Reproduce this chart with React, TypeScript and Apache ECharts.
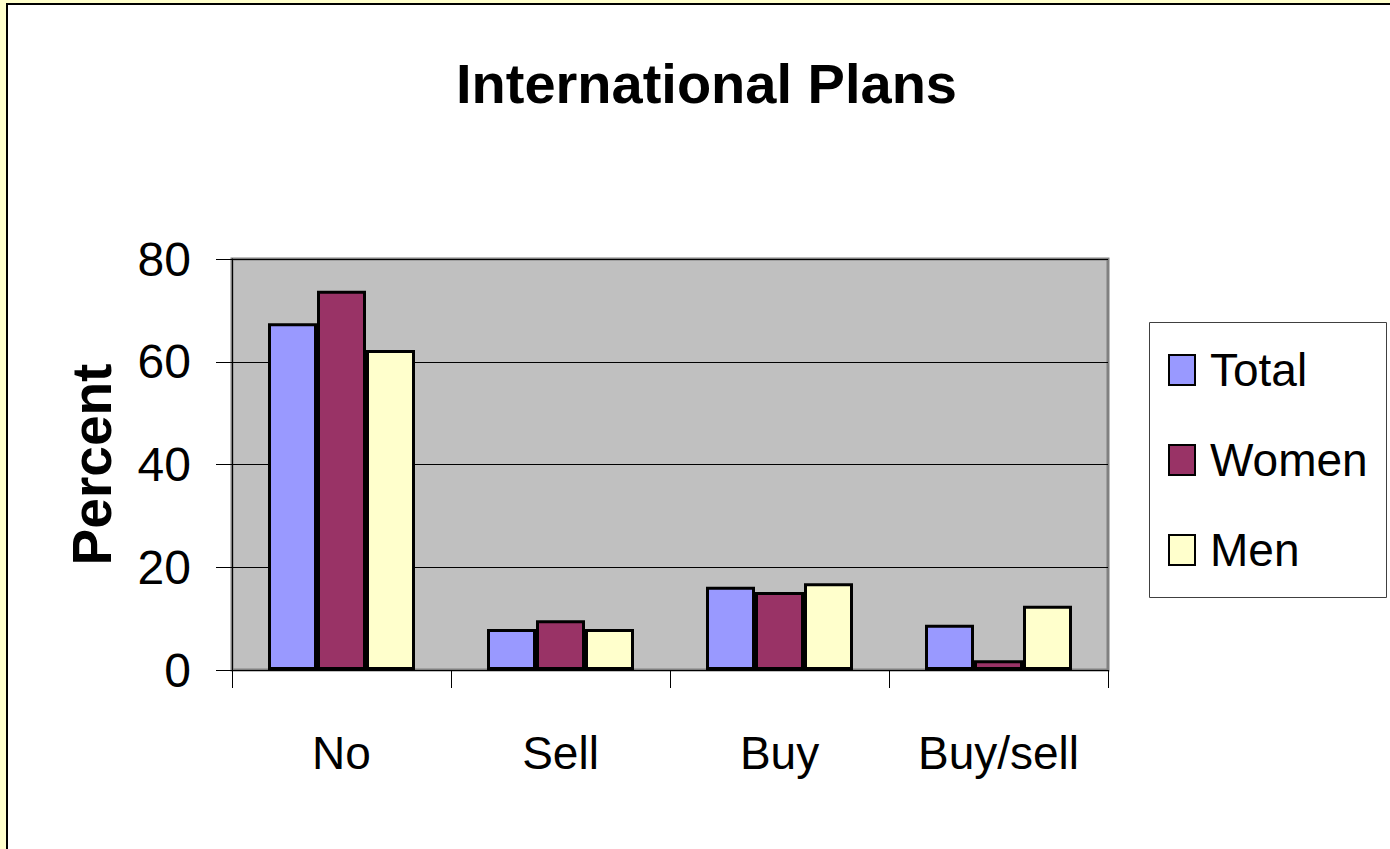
import React, { useEffect, useRef } from "react";
import * as echarts from "echarts";

const categories = ["No", "Sell", "Buy", "Buy/sell"];
const totalValues = [67.5, 8.0, 16.2, 8.8];
const womenValues = [73.8, 9.7, 15.2, 1.9];
const menValues = [62.3, 8.0, 16.9, 12.5];
const seriesNames = ["Total", "Women", "Men"];
const seriesColors = ["#9999FF", "#993366", "#FFFFCC"];
const yTicks = { min: 0, max: 80, interval: 20 };

const FONT = "'Liberation Sans', Arial, sans-serif";

export default function App() {
  const ref = useRef<HTMLDivElement>(null);
  useEffect(() => {
    if (!ref.current) return;
    const chart = echarts.init(ref.current, undefined, { renderer: "svg" });
    const data = [totalValues, womenValues, menValues];
    chart.setOption({
      animation: false,
      backgroundColor: "#FFFFCC",
      textStyle: { fontFamily: FONT, color: "#000" },
      graphic: [
        {
          type: "rect",
          z: -10,
          silent: true,
          shape: { x: 7, y: 4, width: 1420, height: 900 },
          style: { fill: "#FFFFFF", stroke: "#000000", lineWidth: 2 },
        },
        {
          type: "rect",
          z: -5,
          silent: true,
          shape: { x: 1149.5, y: 322.5, width: 237, height: 275 },
          style: { fill: "#FFFFFF", stroke: "#404040", lineWidth: 1 },
        },
      ],
      title: {
        text: "International Plans",
        left: 456,
        top: 55,
        textStyle: { fontFamily: FONT, fontSize: 56, fontWeight: "bold", color: "#000" },
        padding: 0,
      },
      legend: {
        orient: "vertical",
        left: 1168,
        top: 347,
        itemWidth: 26,
        itemHeight: 30,
        itemGap: 44,
        icon: "rect",
        padding: 0,
        textStyle: { fontFamily: FONT, fontSize: 46, color: "#000", padding: [0, 0, 0, 10] },
        data: seriesNames,
      },
      grid: {
        left: 232,
        top: 259,
        right: 282,
        bottom: 179,
        show: true,
        backgroundColor: "#C0C0C0",
        borderColor: "#808080",
        borderWidth: 3,
        containLabel: false,
      },
      xAxis: {
        type: "category",
        data: categories,
        axisLine: { show: true, lineStyle: { color: "#000", width: 1 } },
        axisTick: { show: true, interval: 0, length: 18, lineStyle: { color: "#000", width: 1 } },
        axisLabel: { fontFamily: FONT, fontSize: 46, color: "#000", margin: 60, interval: 0 },
      },
      yAxis: {
        type: "value",
        min: yTicks.min,
        max: yTicks.max,
        interval: yTicks.interval,
        name: "Percent",
        nameLocation: "middle",
        nameGap: 113,
        nameTextStyle: { fontFamily: FONT, fontSize: 55, fontWeight: "bold", color: "#000" },
        axisLine: { show: true, lineStyle: { color: "#000", width: 1 } },
        axisTick: { show: true, length: 16, lineStyle: { color: "#000", width: 1 } },
        splitLine: { show: true, lineStyle: { color: "#000", width: 1 } },
        axisLabel: { fontFamily: FONT, fontSize: 48, color: "#000", margin: 41 },
      },
      series: seriesNames.map((name, i) => ({
        name,
        type: "bar",
        data: data[i],
        barWidth: 49,
        barGap: "0%",
        itemStyle: { color: seriesColors[i], borderColor: "#000", borderWidth: 3 },
      })),
    });
    return () => chart.dispose();
  }, []);
  return (
    <div
      ref={ref}
      style={{ position: "fixed", left: 0, top: 0, width: 1390, height: 849 }}
    />
  );
}
